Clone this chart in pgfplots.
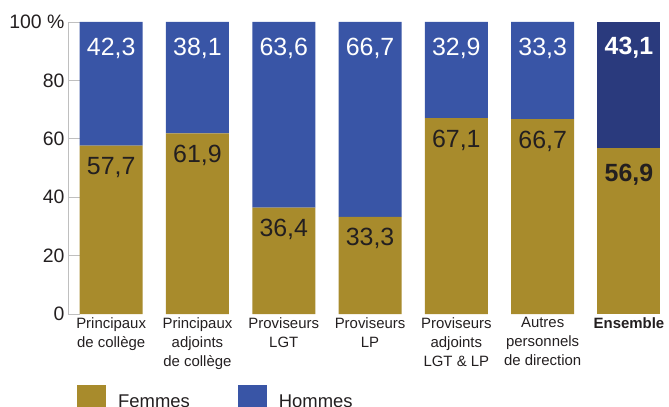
\documentclass[border=0pt]{standalone}
\usepackage{pgfplots}
\usepackage{pgfplotstable}
\pgfplotsset{compat=1.18}
\usepackage{fontspec}
\setmainfont{Liberation Sans}
\definecolor{gold}{RGB}{168,139,44}
\definecolor{blu}{RGB}{57,85,166}
\definecolor{navy}{RGB}{42,58,125}
\definecolor{txt}{RGB}{35,31,32}
\pgfplotstableread{
x f fl h hl
0 57.7 57,7 42.3 42,3
1 61.9 61,9 38.1 38,1
2 36.4 36,4 63.6 63,6
3 33.3 33,3 66.7 66,7
4 67.1 67,1 32.9 32,9
5 66.7 66,7 33.3 33,3
}\cats
\pgfplotstableread{
x f fl h hl
6 56.9 56,9 43.1 43,1
}\ens
\pgfplotsset{
  base/.style={
    scale only axis, width=601bp, height=292bp,
    xmin=-0.5, xmax=6.464, ymin=0, ymax=100,
    ybar stacked, bar width=63bp,
    clip=false,
  },
  lbl/.style={
    nodes near coords, point meta=explicit symbolic,
    visualization depends on={rawy \as \val},
    every node near coord/.append style={yshift={\val*1.46-#1}},
  },
  leg/.style={legend image code/.code={\fill[#1] (0bp,-10bp) rectangle (29bp,17bp);}},
}
\begin{document}
\begin{tikzpicture}
\begin{axis}[base,
  separate axis lines,
  axis x line*=bottom, x axis line style={draw=none},
  axis y line*=left, y axis line style={draw=black!25, line width=0.9bp},
  xtick={0,...,6}, x tick style={draw=none},
  xticklabels={{Principaux\\de collège},{Principaux\\adjoints\\de collège},{Proviseurs\\LGT},{Proviseurs\\LP},{Proviseurs\\adjoints\\LGT \& LP},{Autres\\personnels\\de direction},{\bfseries Ensemble}},
  x tick label style={font=\fontsize{15}{19}\selectfont, align=center, anchor=north, text=txt, yshift=0bp},
  ytick={0,20,40,60,80,100}, yticklabels={0,20,40,60,80,100 \%},
  y tick label style={font=\fontsize{19.5}{20}\selectfont, text=txt},
  y tick style={draw=black!25, line width=0.9bp}, major tick length=12bp, tick align=inside,
  legend columns=2,
  legend style={draw=none, fill=none, at={(0,0)}, anchor=north west, xshift=9bp, yshift=-71bp,
    font=\fontsize{18.5}{20}\selectfont, text=txt, inner sep=0pt,
    /tikz/every odd column/.append style={column sep=10bp},
    /tikz/every even column/.append style={column sep=46bp}},
  legend cell align=left,
]
\addplot[fill=gold, draw=none, lbl=22,
  every node near coord/.append style={font=\fontsize{25}{25}\selectfont, text=txt},
  leg=gold]
  table[x=x, y=f, meta=fl] \cats;
\addplot[fill=blu, draw=none, lbl=26,
  every node near coord/.append style={font=\fontsize{25}{25}\selectfont, text=white},
  leg=blu]
  table[x=x, y=h, meta=hl] \cats;
\legend{Femmes,Hommes}
\end{axis}
\begin{axis}[base, hide axis]
\addplot[fill=gold, draw=none, lbl=27,
  every node near coord/.append style={font=\bfseries\fontsize{25}{25}\selectfont, text=txt}]
  table[x=x, y=f, meta=fl] \ens;
\addplot[fill=navy, draw=none, lbl=26,
  every node near coord/.append style={font=\bfseries\fontsize{25}{25}\selectfont, text=white}]
  table[x=x, y=h, meta=hl] \ens;
\end{axis}
\pgfresetboundingbox
\path (-68bp,-93bp) rectangle (601bp,314bp);
\end{tikzpicture}
\end{document}
